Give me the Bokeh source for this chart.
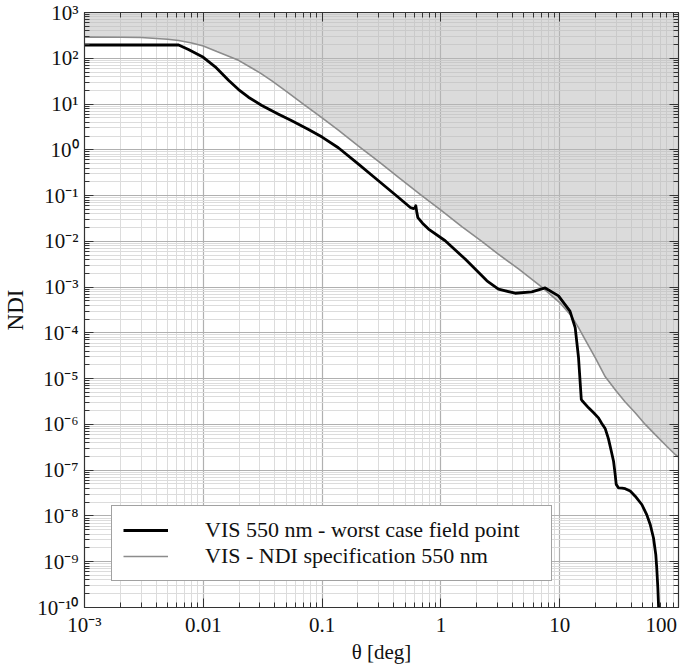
from bokeh.plotting import figure
from bokeh.models import Range1d, FixedTicker, LogAxis, Legend, LegendItem
from bokeh.embed import file_html
from bokeh.resources import INLINE

# NDI specification (grey curve)
theta_spec = [0.001, 0.002, 0.003, 0.005, 0.0062, 0.008, 0.01, 0.013, 0.0198, 0.03,
              0.0378, 0.05, 0.07, 0.1, 0.137, 0.2, 0.3, 0.44, 0.69, 1.0, 1.5, 2.21,
              3.0, 4.5, 7.07, 10, 12.6, 14.4, 17, 20, 24.2, 30, 35.6, 43.2, 52.5,
              63.7, 80, 93.8, 100]
ndi_spec = [290, 288, 284, 260, 244, 215, 185, 140, 90, 48,
            32, 19, 9.8, 5.0, 2.7, 1.24, 0.55, 0.25, 0.1, 0.048, 0.021, 0.01,
            0.0054, 0.0025, 0.001, 4.6e-4, 2.3e-4, 1.3e-4, 6e-5, 2.8e-5, 1.1e-5, 5.3e-6, 3.1e-6, 1.8e-6, 1e-6,
            6e-7, 3.3e-7, 2.2e-7, 1.95e-7]

# VIS 550 nm - worst case field point (black curve)
theta_vis = [0.001, 0.0062, 0.0075, 0.01, 0.0126, 0.0163, 0.0198, 0.024, 0.0311, 0.043,
             0.0556, 0.0769, 0.1, 0.137, 0.2, 0.298, 0.44, 0.553, 0.59, 0.603, 0.615,
             0.627, 0.64, 0.7, 0.787, 1.087, 1.6, 2.44, 3.05, 4.22, 5.82, 7.55, 9.77,
             12.2, 13.5, 14.4, 15.2, 15.6, 17.5, 19.3, 21.2, 22.6, 24.2, 25.7, 27.1,
             28.4, 29.3, 29.9, 31.3, 33.5, 35.6, 39.2, 43.2, 49.1, 54, 57.8, 61.6,
             64.4, 65.6, 67, 68]
ndi_vis = [195, 195, 155, 105, 65, 33, 20.7, 14.1, 9.3, 6.0,
           4.3, 2.78, 1.9, 1.11, 0.5, 0.211, 0.091, 0.055, 0.052, 0.054, 0.06,
           0.043, 0.033, 0.025, 0.0185, 0.0103, 0.0041, 0.00137, 9.0e-4, 7.35e-4, 7.85e-4, 9.6e-4, 6.45e-4,
           3.0e-4, 1.3e-4, 2.9e-5, 3.5e-6, 3.2e-6, 2.3e-6, 1.8e-6, 1.39e-6, 1.05e-6, 8.0e-7, 4.9e-7, 2.7e-7,
           1.57e-7, 8.1e-8, 4.9e-8, 4.1e-8, 4.05e-8, 3.95e-8, 3.5e-8, 2.7e-8, 1.78e-8, 1.07e-8, 6.5e-9, 3.3e-9,
           1.43e-9, 7.3e-10, 2.7e-10, 1.0e-10]

x_ticks = [1e-3, 1e-2, 1e-1, 1.0, 10.0, 100.0]
x_labels = ["10⁻³", "0.01", "0.1", "1", "10", "100\u2002"]
y_ticks = [1e-10, 1e-9, 1e-8, 1e-7, 1e-6, 1e-5, 1e-4, 1e-3, 1e-2, 1e-1, 1.0, 10.0, 100.0, 1000.0]
y_labels = ["10⁻¹⁰", "10⁻⁹", "10⁻⁸", "10⁻⁷", "10⁻⁶", "10⁻⁵", "10⁻⁴", "10⁻³",
            "10⁻²", "10⁻¹", "10⁰", "10¹", "10²", "10³"]

x_minor = [k * 10.0 ** e for e in range(-3, 2) for k in range(2, 10)]
y_minor = [k * 10.0 ** e for e in range(-10, 3) for k in range(2, 10)]

FONT = "Liberation Serif"

p = figure(x_axis_type="log", y_axis_type="log",
           x_range=Range1d(1e-3, 1e2), y_range=Range1d(1e-10, 1e3),
           output_backend="svg", toolbar_location=None, tools="",
           frame_width=594, frame_height=595,
           min_border_left=78, min_border_top=12, min_border_right=9, min_border_bottom=50)
p.background_fill_color = "white"
p.border_fill_color = "white"
p.outline_line_color = "#333333"
p.outline_line_width = 1.2

xt = FixedTicker(ticks=x_ticks, minor_ticks=x_minor)
yt = FixedTicker(ticks=y_ticks, minor_ticks=y_minor)

p.xaxis[0].ticker = xt
p.yaxis[0].ticker = yt

p.xaxis.major_label_overrides = dict(zip(x_ticks, x_labels))
p.yaxis.major_label_overrides = dict(zip(y_ticks, y_labels))

for ax in (p.xaxis[0], p.yaxis[0]):
    ax.major_tick_in = 9
    ax.major_tick_out = 0
    ax.minor_tick_in = 5
    ax.minor_tick_out = 0
    ax.axis_line_color = "#333333"
    ax.major_tick_line_color = "#333333"
    ax.minor_tick_line_color = "#333333"
    ax.major_label_text_font = FONT
    ax.major_label_text_font_size = "21px"
    ax.major_label_text_color = "#111111"
    ax.axis_label_text_font = FONT
    ax.axis_label_text_font_style = "normal"
    ax.axis_label_text_color = "#111111"

p.xaxis.axis_label = "θ [deg]"
p.xaxis.axis_label_text_font_size = "21px"
p.xaxis.major_label_standoff = 5
p.xaxis.axis_label_standoff = 0
p.yaxis.axis_label = "NDI"
p.yaxis.axis_label_text_font_size = "23px"
p.yaxis.major_label_standoff = 6
p.yaxis.axis_label_standoff = 6

# mirrored axes (ticks only)
top = LogAxis(ticker=xt, major_tick_in=9, major_tick_out=0, minor_tick_in=5, minor_tick_out=0,
              major_label_text_alpha=0, major_label_text_font_size="2px", major_label_standoff=0,
              axis_line_color="#333333",
              major_tick_line_color="#333333", minor_tick_line_color="#333333")
right = LogAxis(ticker=yt, major_tick_in=9, major_tick_out=0, minor_tick_in=5, minor_tick_out=0,
                major_label_text_alpha=0, major_label_text_font_size="2px", major_label_standoff=0,
                axis_line_color="#333333",
                major_tick_line_color="#333333", minor_tick_line_color="#333333")
p.add_layout(top, "above")
p.add_layout(right, "right")

for g in (p.xgrid[0], p.ygrid[0]):
    g.grid_line_color = "#b0b0b0"
    g.grid_line_width = 1.2
    g.minor_grid_line_color = "#dcdcdc"
    g.minor_grid_line_width = 1

p.varea(x=theta_spec, y1=ndi_spec, y2=1e3, fill_color="#b8b8b8", fill_alpha=0.5)
r_spec = p.line(theta_spec, ndi_spec, line_color="#8c8c8c", line_width=1.6)
r_vis = p.line(theta_vis, ndi_vis, line_color="black", line_width=2.8, line_join="round")

legend = Legend(items=[LegendItem(label="VIS 550 nm - worst case field point", renderers=[r_vis]),
                       LegendItem(label="VIS - NDI specification 550 nm", renderers=[r_spec])],
                location=(27, 26))
legend.label_text_font = FONT
legend.label_text_font_size = "22px"
legend.label_text_color = "#111111"
legend.glyph_width = 45
legend.label_standoff = 37
legend.padding = 11
legend.spacing = 0
legend.label_width = 335
legend.border_line_color = "#444444"
legend.border_line_width = 1.2
legend.background_fill_color = "white"
legend.background_fill_alpha = 1.0
legend.margin = 0
p.add_layout(legend, "center")

open("out.html", "w").write(file_html(p, INLINE))
